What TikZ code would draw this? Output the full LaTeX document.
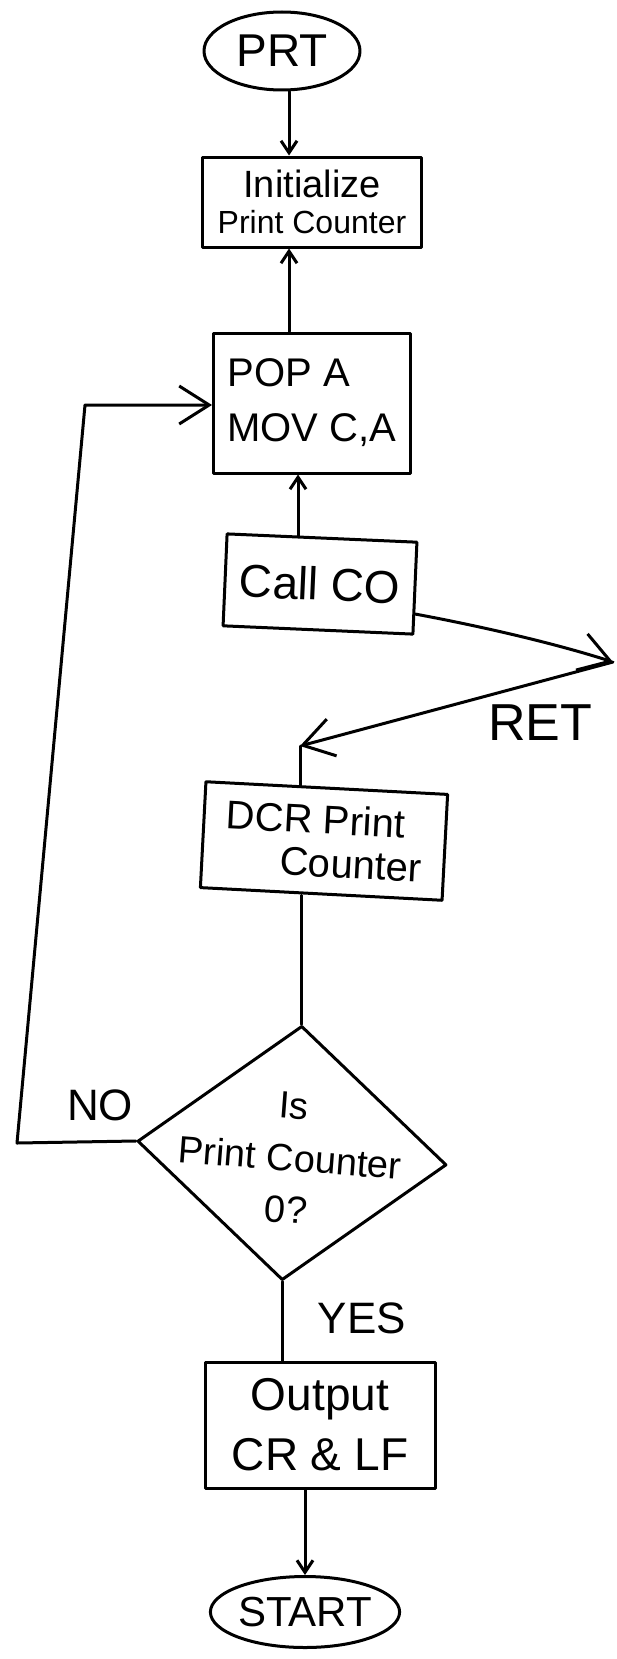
\documentclass[tikz,border=0pt]{standalone}
\usepackage{fontspec}
\setmainfont{Liberation Sans}
\usetikzlibrary{shapes.geometric,arrows.meta}

\newcommand{\setfs}[2]{\fontsize{#1}{#2}\selectfont}

\begin{document}
\begin{tikzpicture}[x=1pt,y=-1pt,line width=3pt,line cap=round,line join=round,
  >={Straight Barb[length=12pt,width=16pt]},
  big/.style={-{Straight Barb[length=30pt,width=38pt]}},
  box/.style={draw,rectangle,inner sep=0pt},
  term/.style={draw,ellipse,inner sep=0pt},
  decision/.style={draw,diamond,inner sep=0pt}]
\useasboundingbox (0,0) rectangle (617,1659);
\node[term,minimum width=156,minimum height=78,font=\setfs{46}{46}] (prt) at (282,51) {PRT};
\node[box,minimum width=219,minimum height=90,align=center,font=\setfs{32}{36}] (init) at (312,202) {{\setfs{38}{36}Initialize}\\Print Counter};
\node[box,minimum width=197,minimum height=140,align=left,font=\setfs{40}{55}] (pop) at (312,403) {POP A\\MOV C,A};
\node[box,minimum width=190,minimum height=92,rotate=-2.5,font=\setfs{46}{46}] (call) at (320,584) {Call CO};
\node[box,minimum width=242,minimum height=106,rotate=-3,align=left,font=\setfs{40}{43}] (dcr) at (324,841) {DCR Print\\\hspace*{1.4em}Counter};
\node[decision,minimum width=310,minimum height=255,rotate=-4.4] (test) at (292,1153) {};
\node[rotate=-4.4,align=center,font=\setfs{38}{52}] (testtxt) at (290,1158) {Is\\Print Counter\\0?};
\node[box,minimum width=230,minimum height=126,align=center,font=\setfs{46}{60}] (out) at (320,1425) {Output\\CR \& LF};
\node[term,minimum width=185,minimum height=71,font=\setfs{42}{42}] (start) at (305,1612) {START};
\node[font=\setfs{44}{44}] (nolbl) at (100,1105) {NO};
\node[font=\setfs{52}{52}] (retlbl) at (540,723) {RET};
\node[font=\setfs{44}{44}] (yeslbl) at (362,1318) {YES};
\coordinate (topaxis) at (289,0);
\coordinate (midaxis) at (298,0);
\coordinate (co) at (613,662);
\coordinate (retend) at (300,746);
\coordinate (nocorner) at (17,1143);
\coordinate (loopcorner) at (85,405);
\draw[->] (prt.south -| topaxis) -- (init.north -| topaxis);
\draw[->] (pop.north -| topaxis) -- (init.south -| topaxis);
\draw[->] (call.north -| midaxis) -- (pop.south -| midaxis);
\draw[big] (call.-15) .. controls (490,628) and (560,645) .. (co);
\draw[big] (co) -- (retend);
\draw (dcr.north -| retend) -- (retend);
\draw (dcr.south -| test.north) -- (test.north);
\draw[big] (test.west) -- (nocorner) -- (loopcorner) -- (pop.west |- loopcorner);
\draw (test.south) -- (test.south |- out.north);
\draw[->] (out.south -| start.north) -- (start.north);
\end{tikzpicture}
\end{document}
